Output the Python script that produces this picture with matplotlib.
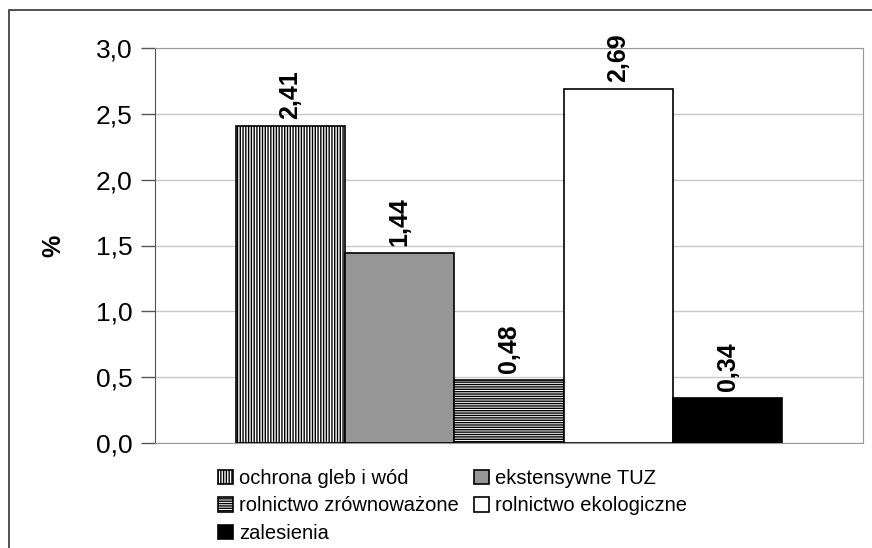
import matplotlib.pyplot as plt
from matplotlib.patches import Rectangle

plt.rcParams['font.family'] = ['Liberation Sans', 'DejaVu Sans']
plt.rcParams['hatch.linewidth'] = 1.0

# dane
kategorie = ['ochrona gleb i wód', 'ekstensywne TUZ', 'rolnictwo zrównoważone',
             'rolnictwo ekologiczne', 'zalesienia']
wartosci = [2.41, 1.44, 0.48, 2.69, 0.34]
kolory = ['white', '#969696', 'white', 'white', 'black']
wzory = ['||||||', '', '-------', '', '']
yticks = [0.0, 0.5, 1.0, 1.5, 2.0, 2.5, 3.0]

fig = plt.figure(figsize=(8.72, 5.48), dpi=100)
ax = fig.add_axes([155 / 872, 1 - 443 / 548, (863 - 155) / 872, (443 - 48) / 548])

# ramka wykresu (lewa i górna krawędź widoczna)
fig.patches.append(Rectangle((9 / 872, -0.1), 1.2, (548 - 10) / 548 + 0.1,
                             transform=fig.transFigure, fill=False,
                             edgecolor='#333333', linewidth=1.2))

w = 0.1545
n = len(wartosci)
slupki = []
for i in range(n):
    x = (i - (n - 1) / 2) * w
    b = ax.bar(x, wartosci[i], width=w, color=kolory[i], hatch=wzory[i],
               edgecolor='black', linewidth=1.2, label=kategorie[i], zorder=3)
    slupki.append(b)
    etykieta = f'{wartosci[i]:.2f}'.replace('.', ',')
    ax.annotate(etykieta, (x, wartosci[i]), xytext=(0, 5), textcoords='offset points',
                rotation=90, ha='center', va='bottom', fontsize=18,
                fontweight='bold', zorder=4)

ax.set_xlim(-0.5, 0.5)
ax.set_ylim(0, 3.0)
ax.set_yticks(yticks)
ax.set_yticklabels([f'{v:.1f}'.replace('.', ',') for v in yticks], fontsize=19)
ax.set_xticks([])
ax.yaxis.grid(True, color='#c8c8c8', linewidth=1)
ax.set_axisbelow(True)
ax.tick_params(axis='y', length=10, width=1, color='#555555', pad=6)
for s in ['top', 'right', 'bottom']:
    ax.spines[s].set_color('#999999')
ax.spines['left'].set_color('#555555')
ax.set_ylabel('%', fontsize=18, fontweight='bold', labelpad=22)

# legenda wierszami: kolejność dla wypełniania kolumnami
kolejnosc = [0, 2, 4, 1, 3]
ax.legend([slupki[k] for k in kolejnosc], [kategorie[k] for k in kolejnosc],
          loc='upper left', bbox_to_anchor=(218 / 872, 1 - 469 / 548),
          bbox_transform=fig.transFigure, ncol=2, frameon=False, fontsize=14.5,
          handlelength=0.75, handleheight=0.75, handletextpad=0.3,
          columnspacing=0.75, labelspacing=0.42, borderpad=0, borderaxespad=0)

plt.savefig('out.png', dpi=100)
